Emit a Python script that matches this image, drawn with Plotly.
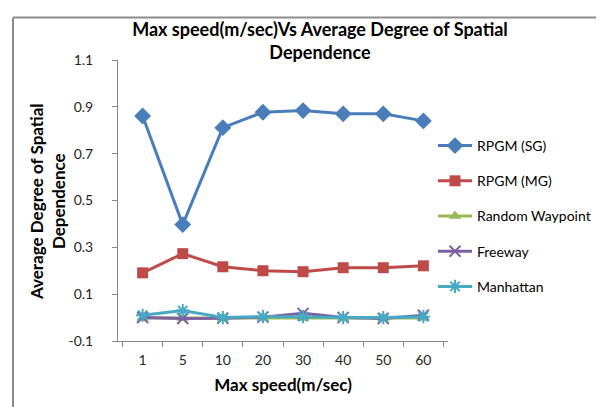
import plotly.graph_objects as go

speeds = ["1", "5", "10", "20", "30", "40", "50", "60"]
rpgm_sg = [0.861, 0.397, 0.811, 0.877, 0.884, 0.870, 0.870, 0.840]
rpgm_mg = [0.191, 0.273, 0.217, 0.200, 0.196, 0.213, 0.213, 0.221]
random_wp = [-0.002, -0.002, -0.002, -0.002, -0.002, -0.002, -0.002, -0.002]
freeway = [0.000, -0.004, -0.003, 0.002, 0.018, 0.000, -0.004, 0.010]
manhattan = [0.010, 0.030, 0.000, 0.004, 0.004, 0.000, 0.000, 0.004]

series = [
    ("RPGM (SG)", rpgm_sg, "#4A7EBB", "diamond", 13),
    ("RPGM (MG)", rpgm_mg, "#BE4B48", "square", 11),
    ("Random Waypoint", random_wp, "#98B954", "triangle-up", 11),
    ("Freeway", freeway, "#7D60A0", "x-thin", 11),
    ("Manhattan", manhattan, "#46AAC5", "asterisk", 11),
]

fig = go.Figure()
for i, (name, vals, color, sym, size) in enumerate(series):
    thin = sym in ("x-thin", "asterisk")
    fig.add_trace(go.Scatter(
        x=speeds, y=vals, name=name, mode="lines+markers",
        line=dict(color=color, width=3),
        marker=dict(symbol=sym, size=size, color=color,
                    line=dict(color=color, width=2 if thin else 0)),
        legendgroup=f"g{i}",
    ))

L, R, T, B = 110, 164, 52, 74
W, H = 604, 407
pw, ph = W - L - R, H - T - B

def px(x):
    return (x - L) / pw

def py(y):
    return (H - B - y) / ph

fig.update_layout(
    width=W, height=H,
    margin=dict(l=L, r=R, t=T, b=B),
    paper_bgcolor="white", plot_bgcolor="white",
    font=dict(family="Lato, Open Sans, sans-serif", size=14, color="#262626"),
    title=dict(text="<b>Max speed(m/sec)Vs Average Degree of Spatial<br>Dependence</b>",
               x=px(312), xref="paper", xanchor="center",
               y=1 - 28 / H, yanchor="middle",
               font=dict(size=18, color="#000000")),
    showlegend=True,
    legend=dict(x=px(425), y=py(122), xref="paper", yref="paper",
                xanchor="left", yanchor="top",
                traceorder="grouped", tracegroupgap=14,
                font=dict(size=14, color="#000000"),
                itemwidth=34, bgcolor="rgba(0,0,0,0)"),
    xaxis=dict(
        type="category", tickson="boundaries", ticks="outside", ticklen=5,
        tickcolor="#868686", showline=True, linecolor="#868686", linewidth=1,
        showgrid=False, zeroline=False, ticklabelstandoff=6,
        tickfont=dict(size=14, color="#262626"),
        title=dict(text="<b>Max speed(m/sec)</b>", font=dict(size=17, color="#000000"),
                   standoff=12),
    ),
    yaxis=dict(
        range=[-0.1, 1.1], tickvals=[-0.1, 0.1, 0.3, 0.5, 0.7, 0.9, 1.1],
        ticktext=["-0.1", "0.1", "0.3", "0.5", "0.7", "0.9", "1.1"],
        ticks="outside", ticklen=5, tickcolor="#868686",
        showline=True, linecolor="#868686", linewidth=1,
        showgrid=False, zeroline=False, ticklabelstandoff=16,
        tickfont=dict(size=14, color="#262626"),
    ),
    annotations=[dict(
        text="<b>Average Degree of Spatial<br>Dependence</b>",
        xref="paper", yref="paper", x=px(40), y=py(194),
        xanchor="center", yanchor="middle", textangle=-90, showarrow=False,
        font=dict(size=17, color="#000000"),
    )],
    shapes=[
        dict(type="line", xref="paper", yref="paper",
             x0=px(5), x1=px(604), y0=py(9.5), y1=py(9.5),
             line=dict(color="#8C8C8C", width=2), layer="below"),
        dict(type="line", xref="paper", yref="paper",
             x0=px(5), x1=px(5), y0=py(9.5), y1=py(407),
             line=dict(color="#8C8C8C", width=2), layer="below"),
    ],
)

fig.write_html("out.html")
